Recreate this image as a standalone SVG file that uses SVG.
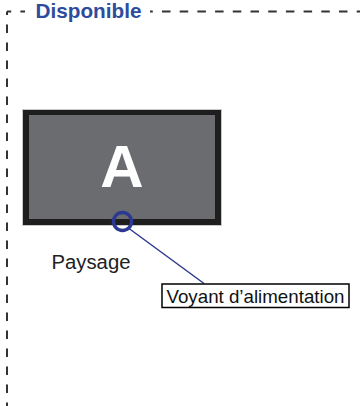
<svg xmlns="http://www.w3.org/2000/svg" width="360" height="406" viewBox="0 0 360 406">
<style>
.frame{stroke:#333;stroke-width:2;fill:none}
.lbl{font-family:"Liberation Sans",Arial,sans-serif}
</style>
<rect width="360" height="406" fill="#fff"/>
<g id="frame">
<line class="frame" x1="7" y1="11.5" x2="7" y2="406" stroke-dasharray="8.5 9.5" stroke-dashoffset="5"/>
<line class="frame" x1="7" y1="11.5" x2="360" y2="11.5" stroke-dasharray="8.5 9.2" stroke-dashoffset="4.3"/>
<rect x="25" y="1" width="125" height="21" fill="#fff"/>
<text class="lbl" x="35.5" y="17.5" font-size="20.5" font-weight="bold" fill="#2f4b9c" textLength="106" lengthAdjust="spacingAndGlyphs">Disponible</text>
</g>
<g id="monitor">
<rect x="22.5" y="109.5" width="199" height="116" fill="#fff" stroke="#c8c8c8" stroke-width="1"/>
<rect x="23" y="110" width="198" height="115" fill="#1e1e1e"/>
<rect x="29" y="115" width="186" height="104" fill="#6b6c70"/>
<text class="lbl" x="122" y="187" font-size="60" font-weight="bold" fill="#fff" text-anchor="middle">A</text>
</g>
<g id="led">
<circle cx="122.5" cy="221.5" r="9" fill="none" stroke="#2b3990" stroke-width="3.5"/>
</g>
<g id="paysage">
<text class="lbl" x="51.5" y="268.5" font-size="20" fill="#222" textLength="79" lengthAdjust="spacingAndGlyphs">Paysage</text>
</g>
<g id="connectors">
<line x1="129" y1="228.5" x2="204" y2="283.5" stroke="#2b3990" stroke-width="1.5"/>
</g>
<g id="voyant">
<rect x="162" y="284" width="187" height="23.5" fill="#fff" stroke="#000" stroke-width="1.5"/>
<text class="lbl" x="166.5" y="302.5" font-size="18.5" fill="#111" textLength="178" lengthAdjust="spacingAndGlyphs">Voyant d’alimentation</text>
</g>
</svg>
